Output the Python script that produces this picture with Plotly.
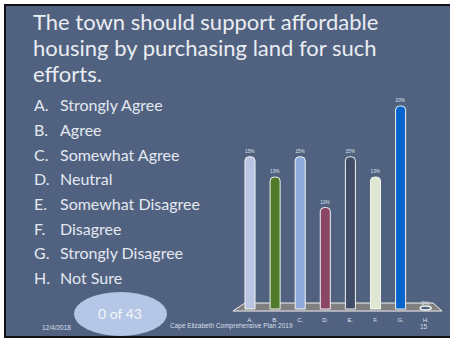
import plotly.graph_objects as go

categories = ["A.", "B.", "C.", "D.", "E.", "F.", "G.", "H."]
values = [15, 13, 15, 10, 15, 13, 20, 0]
value_labels = ["15%", "13%", "15%", "10%", "15%", "13%", "20%", "0%"]
bar_colors = ["#b9c5e3", "#4e7a2a", "#8ea9dc", "#8a4666", "#3f4d66", "#dde7d2", "#0565cc", "#506280"]
answers = ["Strongly Agree", "Agree", "Somewhat Agree", "Neutral",
           "Somewhat Disagree", "Disagree", "Strongly Disagree", "Not Sure"]
title_lines = ["The town should support affordable",
               "housing by purchasing land for such",
               "efforts."]

W, H = 450, 341
BG = "#506280"
TXT = "#e4e8f0"

def px(x):
    return x / W

def py(y):
    return 1 - y / H

xs = list(range(len(categories)))

fig = go.Figure()
fig.add_trace(go.Bar(
    x=xs, y=values, width=0.4,
    marker=dict(color=bar_colors, line=dict(color="#f2f2f2", width=1), cornerradius=4),
    text=value_labels, textposition="outside", cliponaxis=False,
    textfont=dict(size=6, color="#dfe5ee", family="Liberation Sans"),
    showlegend=False, hoverinfo="skip",
))

shapes = []
# slide background / frame
shapes.append(dict(type="rect", xref="paper", yref="paper",
                   x0=px(5), x1=px(460), y0=py(337), y1=py(5),
                   fillcolor=BG, line=dict(color="#111111", width=2), layer="below"))
# floor of the 3D chart
shapes.append(dict(type="path", xref="x", yref="y",
                   path="M -0.68,-0.2 L -0.2,0.59 L 7.29,0.59 L 7.65,-0.2 Z",
                   fillcolor="#808080", line=dict(color="#f0f0f0", width=1), layer="below"))
# zero-height bars drawn as a flat ring
for i, v in enumerate(values):
    if v == 0:
        shapes.append(dict(type="circle", xref="x", yref="y",
                           x0=i - 0.22, x1=i + 0.22, y0=-0.1, y1=0.3,
                           fillcolor="#506280", line=dict(color="#f2f2f2", width=1.5)))
# counter ellipse
shapes.append(dict(type="circle", xref="paper", yref="paper",
                   x0=px(74), x1=px(167), y0=py(336), y1=py(292),
                   fillcolor="#b5c6e6", line=dict(width=0)))

annotations = []
for k, line in enumerate(title_lines):
    annotations.append(dict(text=line, xref="paper", yref="paper",
                            x=px(31), y=py(22 + k * 25.5), xanchor="left", yanchor="middle",
                            showarrow=False,
                            font=dict(family="Lato", size=22, color="#eaedf2")))
for k, (c, a) in enumerate(zip(categories, answers)):
    yy = py(105 + k * 24.6)
    annotations.append(dict(text=c[0] + ".", xref="paper", yref="paper", x=px(32), y=yy,
                            xanchor="left", yanchor="middle", showarrow=False,
                            font=dict(family="Lato", size=16, color=TXT)))
    annotations.append(dict(text=a, xref="paper", yref="paper", x=px(57.5), y=yy,
                            xanchor="left", yanchor="middle", showarrow=False,
                            font=dict(family="Lato", size=16, color=TXT)))
annotations.append(dict(text="0 of 43", xref="paper", yref="paper", x=px(120), y=py(313),
                        xanchor="center", yanchor="middle", showarrow=False,
                        font=dict(family="Lato", size=14, color="#f4f6fa")))
annotations.append(dict(text="12/4/2018", xref="paper", yref="paper", x=px(40), y=py(327),
                        xanchor="left", yanchor="middle", showarrow=False,
                        font=dict(family="Liberation Sans", size=6.5, color="#d8dfea")))
annotations.append(dict(text="Cape Elizabeth Comprehensive Plan 2019", xref="paper", yref="paper",
                        x=px(168), y=py(326), xanchor="left", yanchor="middle", showarrow=False,
                        font=dict(family="Liberation Sans", size=6.5, color="#d8dfea")))
annotations.append(dict(text="15", xref="paper", yref="paper", x=px(418), y=py(326),
                        xanchor="left", yanchor="middle", showarrow=False,
                        font=dict(family="Liberation Sans", size=6.5, color="#d8dfea")))

fig.update_layout(
    width=W, height=H, margin=dict(l=0, r=0, t=0, b=0),
    paper_bgcolor="#ffffff", plot_bgcolor="rgba(0,0,0,0)",
    shapes=shapes, annotations=annotations,
    xaxis=dict(domain=[px(230), px(446)], range=[-0.797, 7.809],
               tickmode="array", tickvals=xs, ticktext=categories,
               tickfont=dict(size=6, color="#dfe5ee", family="Liberation Sans"),
               showgrid=False, zeroline=False, showline=False, ticks=""),
    yaxis=dict(domain=[py(315), py(80)], range=[-0.59, 22.56],
               visible=False, showgrid=False, zeroline=False),
)

fig.write_html("out.html", config={"displayModeBar": False},
               post_script="document.body.style.margin='0';document.body.style.overflow='hidden';")
